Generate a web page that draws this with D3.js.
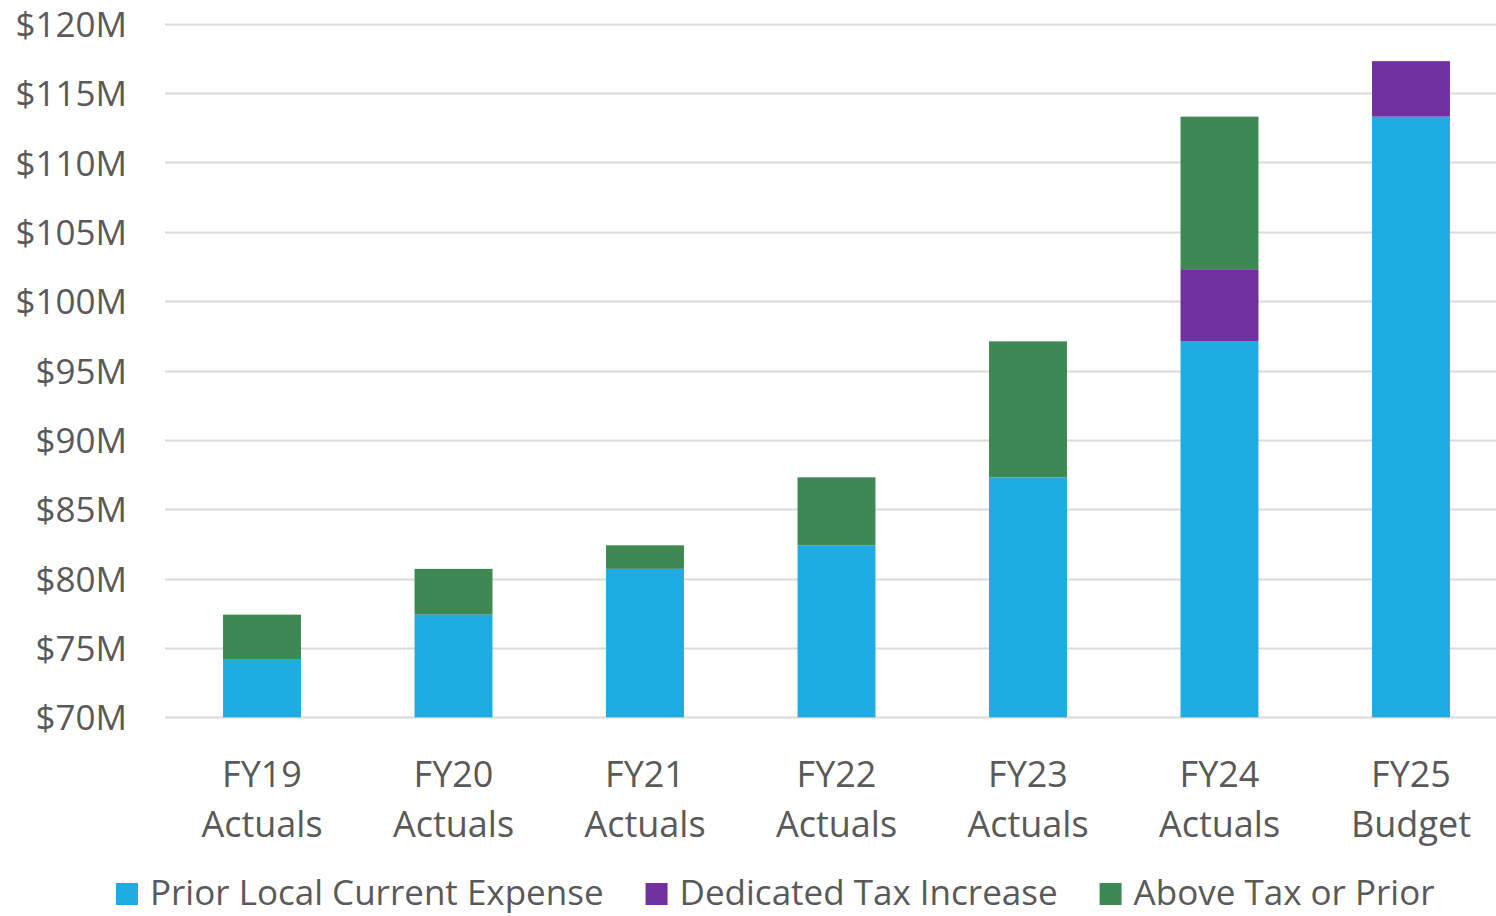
<!DOCTYPE html>
<html>
<head>
<meta charset="utf-8">
<script src="https://cdn.jsdelivr.net/npm/d3@7"></script>
<style>
  html, body { margin: 0; padding: 0; background: #ffffff; }
  svg { display: block; }
  text { font-family: "Open Sans", sans-serif; fill: #595959; }
</style>
</head>
<body>
<svg id="chart" width="1496" height="916"></svg>
<script>
const categories = [["FY19", "Actuals"], ["FY20", "Actuals"], ["FY21", "Actuals"], ["FY22", "Actuals"], ["FY23", "Actuals"], ["FY24", "Actuals"], ["FY25", "Budget"]];
const seriesNames = ["Prior Local Current Expense", "Dedicated Tax Increase", "Above Tax or Prior"];
const priorLocal = [74.2, 77.4, 80.7, 82.4, 87.3, 97.1, 113.3];
const dedicatedTax = [0, 0, 0, 0, 0, 5.2, 4.0];
const aboveTax = [3.2, 3.3, 1.7, 4.9, 9.8, 11.0, 0];
const yTicks = [70, 75, 80, 85, 90, 95, 100, 105, 110, 115, 120];
const colors = ["#1FACE3", "#7030A0", "#3D8853"];

const svg = d3.select("#chart");
const keys = categories.map(c => c.join(" "));
const rows = keys.map((k, i) => ({ key: k, s0: priorLocal[i], s1: dedicatedTax[i], s2: aboveTax[i] }));

const y = d3.scaleLinear().domain([70, 120]).range([717.3, 23.7]);
const x = d3.scaleBand().domain(keys).range([166.25, 1506.75]).paddingInner(0.593).paddingOuter(0.2965);

// gridlines
svg.append("g").selectAll("line").data(yTicks).join("line")
  .attr("x1", 165).attr("x2", 1496)
  .attr("y1", d => Math.round(y(d)) + 0.5).attr("y2", d => Math.round(y(d)) + 0.5)
  .attr("stroke", "#D9D9D9").attr("stroke-width", 2);

// y axis labels
const yAxis = d3.axisLeft(y).tickValues(yTicks).tickSize(0).tickPadding(0).tickFormat(d => "$" + d + "M");
const yg = svg.append("g").attr("transform", "translate(127,0)").call(yAxis);
yg.select(".domain").remove();
yg.selectAll("text").attr("font-size", 35).attr("font-family", "Open Sans").attr("fill", "#595959").attr("dy", "0.36em");

// stacked bars
const stack = d3.stack().keys(["s0", "s1", "s2"])(rows);
svg.append("g").selectAll("g").data(stack).join("g")
  .attr("fill", (d, i) => colors[i])
  .selectAll("rect").data(d => d).join("rect")
  .attr("x", d => x(d.data.key))
  .attr("width", x.bandwidth())
  .attr("y", d => y(d[1]))
  .attr("height", d => Math.max(0, y(Math.max(d[0], 70)) - y(d[1])));

// x labels
const xg = svg.append("g");
categories.forEach((c, i) => {
  const cx = x(keys[i]) + x.bandwidth() / 2;
  const t = xg.append("text").attr("text-anchor", "middle").attr("font-size", 36).attr("x", cx);
  t.append("tspan").attr("x", cx).attr("y", 787).text(c[0]);
  t.append("tspan").attr("x", cx).attr("y", 837).text(c[1]);
});

// legend
const lg = svg.append("g");
let lx = 116;
seriesNames.forEach((name, i) => {
  lg.append("rect").attr("x", lx).attr("y", 883).attr("width", 22).attr("height", 22).attr("fill", colors[i]);
  const t = lg.append("text").attr("x", lx + 34).attr("y", 905).attr("font-size", 35).text(name);
  const w = t.node().getComputedTextLength();
  lx = lx + 34 + w + 42;
});
</script>
</body>
</html>
